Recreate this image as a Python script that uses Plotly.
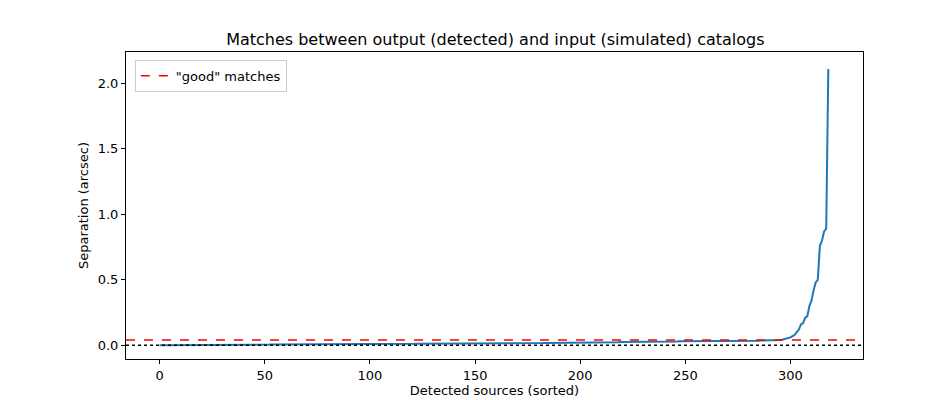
import plotly.graph_objects as go

separation = [
 0.000,0.000,0.001,0.001,0.001,0.001,0.001,0.001,0.001,0.001,0.002,0.002,0.002,0.002,0.002,0.002,0.002,0.002,0.002,0.002,
 0.003,0.003,0.003,0.003,0.003,0.003,0.003,0.003,0.003,0.003,0.003,0.004,0.004,0.004,0.004,0.004,0.004,0.004,0.004,0.004,
 0.004,0.004,0.005,0.005,0.005,0.005,0.005,0.005,0.005,0.005,0.005,0.005,0.005,0.006,0.006,0.006,0.006,0.006,0.006,0.006,
 0.006,0.006,0.006,0.006,0.007,0.007,0.007,0.007,0.007,0.007,0.007,0.007,0.007,0.007,0.007,0.008,0.008,0.008,0.008,0.008,
 0.008,0.008,0.008,0.008,0.008,0.008,0.008,0.009,0.009,0.009,0.009,0.009,0.009,0.009,0.009,0.009,0.009,0.009,0.010,0.010,
 0.010,0.010,0.010,0.010,0.010,0.010,0.010,0.010,0.010,0.010,0.011,0.011,0.011,0.011,0.011,0.011,0.011,0.011,0.011,0.011,
 0.011,0.011,0.012,0.012,0.012,0.012,0.012,0.012,0.012,0.012,0.012,0.012,0.012,0.012,0.013,0.013,0.013,0.013,0.013,0.013,
 0.013,0.013,0.013,0.013,0.013,0.014,0.014,0.014,0.014,0.014,0.014,0.014,0.014,0.014,0.014,0.014,0.015,0.015,0.015,0.015,
 0.015,0.015,0.015,0.015,0.015,0.015,0.016,0.016,0.016,0.016,0.016,0.016,0.016,0.016,0.016,0.017,0.017,0.017,0.017,0.017,
 0.017,0.017,0.017,0.018,0.018,0.018,0.018,0.018,0.018,0.018,0.019,0.019,0.019,0.019,0.019,0.019,0.019,0.020,0.020,0.020,
 0.020,0.020,0.020,0.021,0.021,0.021,0.021,0.021,0.021,0.022,0.022,0.022,0.022,0.022,0.023,0.023,0.023,0.023,0.023,0.024,
 0.024,0.024,0.024,0.024,0.025,0.025,0.025,0.025,0.025,0.026,0.026,0.026,0.026,0.026,0.027,0.027,0.027,0.027,0.028,0.028,
 0.028,0.028,0.028,0.029,0.029,0.029,0.029,0.030,0.030,0.030,0.030,0.030,0.031,0.031,0.031,0.031,0.032,0.032,0.032,0.032,
 0.032,0.032,0.033,0.033,0.033,0.033,0.033,0.033,0.033,0.034,0.034,0.034,0.034,0.034,
 0.033,0.033,0.033,0.033,0.034,0.034,0.034,0.034,0.035,0.035,0.035,0.035,0.036,0.036,0.036,0.037,0.037,0.037,0.038,0.038,
 0.039,0.040,0.042,0.045,0.050,0.055,0.060,0.070,0.080,0.100,0.120,0.160,0.170,0.210,0.220,0.300,0.340,0.420,0.480,0.500,
 0.760,0.800,0.870,0.890,2.110,
]
separation = sorted(separation)
sources = list(range(len(separation)))
good_threshold = 0.04

fig = go.Figure()
fig.add_trace(go.Scatter(x=sources, y=separation, mode="lines",
                         line=dict(color="#1f77b4", width=2), showlegend=False))
fig.add_hline(y=0, line=dict(color="black", dash="dot", width=1.5))
fig.add_hline(y=good_threshold, line=dict(color="red", dash="dash", width=1.5))
fig.add_trace(go.Scatter(x=[None], y=[None], mode="lines", name='"good" matches',
                         line=dict(color="red", dash="dash", width=1.5)))

axis = dict(showgrid=False, zeroline=False, showline=True, linecolor="black", mirror=True,
            ticks="outside", ticklen=4, tickcolor="black", tickfont=dict(size=13))
fig.update_layout(
    width=950, height=400, plot_bgcolor="white", paper_bgcolor="white",
    font=dict(family="DejaVu Sans", color="black", size=13),
    margin=dict(l=118, r=95, t=44, b=44),
    title=dict(text="Matches between output (detected) and input (simulated) catalogs",
               x=0.513, xanchor="center", y=0.935, font=dict(size=16)),
    xaxis=dict(axis, range=[-16, 334.5], tickvals=[0, 50, 100, 150, 200, 250, 300],
               title=dict(text="Detected sources (sorted)", standoff=4, font=dict(size=13))),
    yaxis=dict(axis, range=[-0.105, 2.24], tickvals=[0, 0.5, 1, 1.5, 2],
               tickformat=".1f", title=dict(text="Separation (arcsec)", standoff=6, font=dict(size=13))),
    legend=dict(x=0.012, y=0.975, xanchor="left", yanchor="top", bordercolor="#cccccc",
                borderwidth=1, bgcolor="white", font=dict(size=13)),
)
fig.write_html("out.html")
